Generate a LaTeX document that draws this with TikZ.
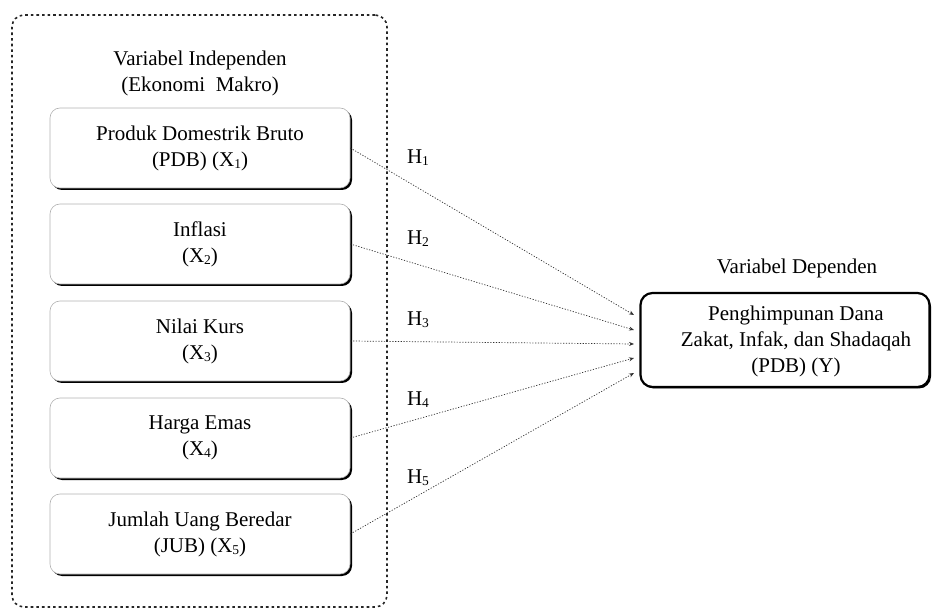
\documentclass[tikz,border=0pt]{standalone}
\usepackage{fontspec}
\setmainfont{Liberation Serif}
\usetikzlibrary{arrows.meta,shadows}
\newcommand{\lsub}[1]{{\fontsize{13.5}{13.5}\selectfont\raisebox{-2pt}{#1}}}
\begin{document}
\begin{tikzpicture}[x=1pt,y=-1pt,
  font=\fontsize{21}{26}\selectfont,
  varbox/.style={rounded corners=10pt, draw=gray!60, line width=0.6pt, fill=white,
    minimum width=300pt, minimum height=80pt, align=center, inner sep=0pt,
    drop shadow={shadow xshift=2pt, shadow yshift=-2pt, opacity=1, fill=black}},
  depbox/.style={rounded corners=12pt, draw=black, line width=2.2pt, fill=white,
    minimum width=289pt, minimum height=94pt, inner sep=0pt,
    drop shadow={shadow xshift=1.5pt, shadow yshift=-1.5pt, opacity=1, fill=black}},
  groupbox/.style={rounded corners=12pt, draw=black!85, line width=1.6pt,
    dash pattern=on 2.6pt off 3pt, minimum width=375pt, minimum height=592pt, inner sep=0pt},
  hyp/.style={draw=black!80, line width=0.7pt, dash pattern=on 1.2pt off 1.6pt,
    -{Stealth[length=5pt,width=4pt]}},
  plain/.style={align=center, inner sep=0pt}
]
\useasboundingbox (0,0) rectangle (932,609);

\node[groupbox] (grp) at (199.5,311) {};
\node[plain] (ttl) at (200,73) {Variabel Independen\\(Ekonomi\ \ Makro)};

\node[varbox] (x1) at (200,148) {Produk Domestrik Bruto\\(PDB) (X\lsub{1})};
\node[varbox] (x2) at (200,244) {Inflasi\\(X\lsub{2})};
\node[varbox] (x3) at (200,341) {Nilai Kurs\\(X\lsub{3})};
\node[varbox] (x4) at (200,438) {Harga Emas\\(X\lsub{4})};
\node[varbox] (x5) at (200,534) {Jumlah Uang Beredar\\(JUB) (X\lsub{5})};

\node[plain] (dtl) at (797,268) {Variabel Dependen};
\node[depbox] (y) at (785,340) {};
\node[plain] (ytxt) at (796,341) {Penghimpunan Dana\\Zakat, Infak, dan Shadaqah\\(PDB) (Y)};

\coordinate (t1) at (634,315);
\coordinate (t2) at (634,330);
\coordinate (t3) at (634,344);
\coordinate (t4) at (634,358);
\coordinate (t5) at (634,373);

\draw[hyp] (x1.east) -- (t1);
\draw[hyp] (x2.east) -- (t2);
\draw[hyp] (x3.east) -- (t3);
\draw[hyp] (x4.east) -- (t4);
\draw[hyp] (x5.east) -- (t5);

\node[plain] (h1) at (418,158) {H\lsub{1}};
\node[plain] (h2) at (418,239) {H\lsub{2}};
\node[plain] (h3) at (418,320) {H\lsub{3}};
\node[plain] (h4) at (418,400) {H\lsub{4}};
\node[plain] (h5) at (418,478) {H\lsub{5}};
\end{tikzpicture}
\end{document}
